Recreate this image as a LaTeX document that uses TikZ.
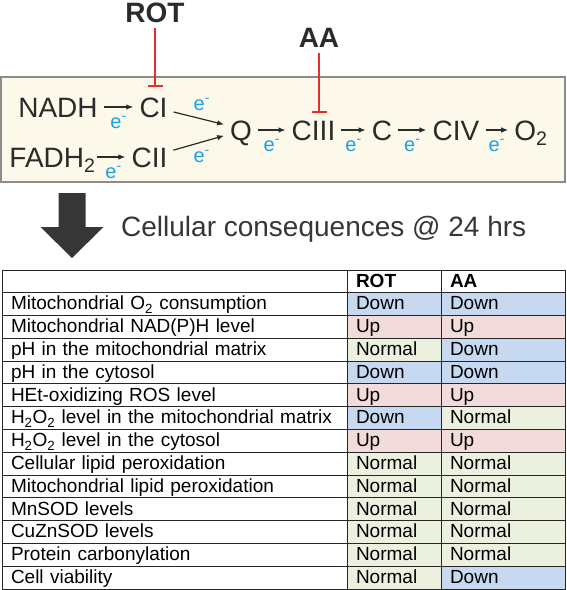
\documentclass[tikz,border=0pt]{standalone}
\usepackage{fontspec}
\setmainfont{Liberation Sans}
\usetikzlibrary{arrows.meta}

\definecolor{chaintext}{HTML}{2B2B2B}
\definecolor{eblue}{HTML}{1AA3E6}
\definecolor{inhib}{HTML}{E62E2E}
\definecolor{boxfill}{HTML}{FCF9EA}
\definecolor{boxline}{HTML}{8C8C8C}
\definecolor{bigarrow}{HTML}{363636}
\definecolor{Down}{HTML}{C6D9F0}
\definecolor{Up}{HTML}{F2DCDB}
\definecolor{Normal}{HTML}{EBF1DE}

\begin{document}
\begin{tikzpicture}[x = 1pt, y = -1pt, > = {Latex[length = 7pt, width = 5.5pt]},
	chain/.style = {font = \fontsize{28}{30}\selectfont, text = chaintext, inner sep = 0pt, text height = 20pt, text depth = 0pt, anchor = base},
	drug/.style = {chain, font = \fontsize{28}{30}\selectfont\bfseries},
	elec/.style = {font = \fontsize{20}{20}\selectfont, text = eblue, inner sep = 0pt, anchor = base},
	ebelow/.style = {elec, yshift = -21pt},
	flow/.style = {->, line width = 1.2pt, chaintext, shorten < = 6pt, shorten > = 6pt},
	block/.style = {-{Bar[width = 15pt, line width = 1.4pt]}, line width = 1.4pt, inhib},
	cell/.style = {draw = black!85, line width = 0.9pt, anchor = north west, minimum height = 22.786pt, inner xsep = 9pt, inner ysep = 0pt, outer sep = 0pt, text height = 14pt, text depth = 2.4pt, align = left, font = \fontsize{19}{19}\selectfont},
	headcell/.style = {cell, font = \fontsize{19}{19}\selectfont\bfseries}]

	\useasboundingbox (0, 0) rectangle (566, 590);

	% Electron transport chain box

	\draw[boxline, fill = boxfill, line width = 1.2pt] (1, 77) rectangle (565, 182);

	\node[drug] (rot) at (155, 22) {ROT};
	\node[drug] (aa) at (319, 47) {AA};

	\node[chain] (nadh) at (58, 117) {NADH};
	\node[chain] (ci) at (153.5, 117) {CI};
	\node[chain] (fadh) at (52.5, 167) {FADH\textsubscript{2}};
	\node[chain] (cii) at (149.5, 167) {CII};
	\node[chain] (q) at (241, 140) {Q};
	\node[chain] (ciii) at (313.5, 140) {CIII};
	\node[chain] (cytc) at (382, 140) {C};
	\node[chain] (civ) at (456, 140) {CIV};
	\node[chain] (o2) at (531, 140) {O\textsubscript{2}};

	% Electron flow

	\draw[flow] (nadh) -- (ci) node[midway, ebelow] {e\textsuperscript{-}};
	\draw[flow, shorten < = 1pt] (fadh) -- (cii) node[midway, ebelow] {e\textsuperscript{-}};
	\draw[flow] (ci) -- (q.160) node[midway, elec, xshift = 3pt, yshift = 8pt] {e\textsuperscript{-}};
	\draw[flow] (cii) -- (q.200) node[midway, elec, xshift = 3pt, yshift = -19.5pt] {e\textsuperscript{-}};
	\draw[flow] (q) -- (ciii) node[midway, ebelow] {e\textsuperscript{-}};
	\draw[flow] (ciii) -- (cytc) node[midway, ebelow] {e\textsuperscript{-}};
	\draw[flow] (cytc) -- (civ) node[midway, ebelow] {e\textsuperscript{-}};
	\draw[flow] (civ) -- (o2) node[midway, ebelow] {e\textsuperscript{-}};

	% Inhibitors

	\draw[block, shorten < = 6pt, shorten > = 10pt] (rot.south) -- (rot.south |- ci.north);
	\draw[block, shorten < = 6pt, shorten > = 7pt] (aa.south) -- (aa.south |- ciii.north);

	% Consequences

	\fill[bigarrow] (58.5, 193) -- (85.5, 193) -- (85.5, 227) -- (103.5, 227) -- (72, 258) -- (40.5, 227) -- (58.5, 227) -- cycle;
	\node[chain, text = bigarrow, anchor = base west] (conseq) at (121, 236) {Cellular consequences @ 24 hrs};

	% Table

	\node[cell, text width = 327pt] (what0) at (2, 270) {};
	\node[headcell, text width = 76pt] (rot0) at (347, 270) {ROT};
	\node[headcell, text width = 106pt] (aa0) at (441, 270) {AA};

	\foreach \what/\rot/\aa [count = \i] in {
		Mitochondrial O\textsubscript{2} consumption/Down/Down,
		Mitochondrial NAD(P)H level/Up/Up,
		pH in the mitochondrial matrix/Normal/Down,
		pH in the cytosol/Down/Down,
		HEt-oxidizing ROS level/Up/Up,
		H\textsubscript{2}O\textsubscript{2} level in the mitochondrial matrix/Down/Normal,
		H\textsubscript{2}O\textsubscript{2} level in the cytosol/Up/Up,
		Cellular lipid peroxidation/Normal/Normal,
		Mitochondrial lipid peroxidation/Normal/Normal,
		MnSOD levels/Normal/Normal,
		CuZnSOD levels/Normal/Normal,
		Protein carbonylation/Normal/Normal,
		Cell viability/Normal/Down}
	{
		\node[cell, text width = 327pt] (what\i) at (2, {270 + 22.786*\i}) {\what};
		\node[cell, text width = 76pt, fill = \rot] (rot\i) at (347, {270 + 22.786*\i}) {\rot};
		\node[cell, text width = 106pt, fill = \aa] (aa\i) at (441, {270 + 22.786*\i}) {\aa};
	}

\end{tikzpicture}
\end{document}
